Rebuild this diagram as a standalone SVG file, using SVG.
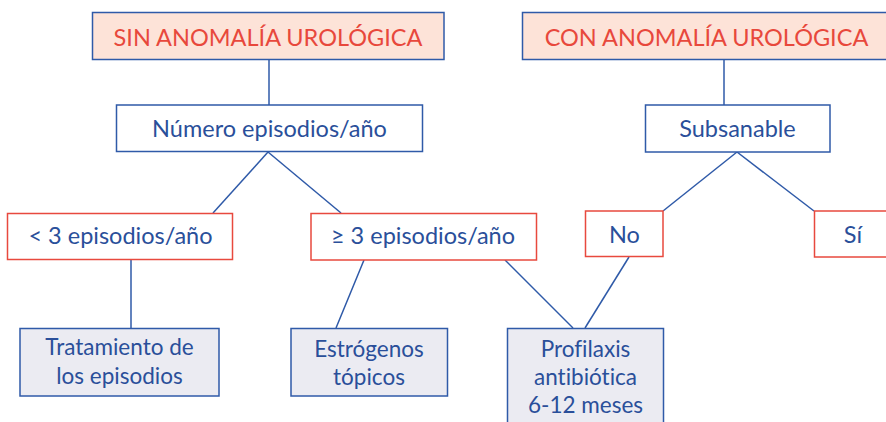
<svg xmlns="http://www.w3.org/2000/svg" width="886" height="422" viewBox="0 0 886 422">
<style>
.head rect{fill:#fde3d8;stroke:#2f5aa8;stroke-width:1.5}
.head text{fill:#e8483c;font-size:23.5px}
.q rect{fill:#ffffff;stroke:#2f5aa8;stroke-width:1.5}
.opt rect{fill:#ffffff;stroke:#e8493e;stroke-width:1.5}
.res rect{fill:#ebebf2;stroke:#2f5aa8;stroke-width:1.5}
.res text{font-size:22.5px}
text{font-family:Lato,"Open Sans","Liberation Sans",sans-serif;text-anchor:middle;fill:#2a4f9a;font-size:23.5px;font-variant-ligatures:none}
#connectors line{stroke:#2f5aa8;stroke-width:1.5}
</style>
<rect width="886" height="422" fill="#ffffff"/>
<g id="connectors">
<line x1="269" y1="59" x2="269" y2="105"/>
<line x1="724" y1="59" x2="724" y2="105"/>
<line x1="268" y1="152" x2="213" y2="213"/>
<line x1="268" y1="152" x2="341" y2="213"/>
<line x1="737" y1="152" x2="663" y2="211"/>
<line x1="737" y1="152" x2="814" y2="211"/>
<line x1="131" y1="259" x2="131" y2="328"/>
<line x1="364" y1="260" x2="336" y2="328"/>
<line x1="505" y1="260" x2="573" y2="328"/>
<line x1="629" y1="257" x2="585" y2="328"/>
</g>
<g id="sin" class="head"><rect x="92.5" y="12.5" width="351.5" height="47"/><text x="268" y="45.5">SIN ANOMALÍA UROLÓGICA</text></g>
<g id="con" class="head"><rect x="522.5" y="12.5" width="380" height="47"/><text x="706.5" y="45.5">CON ANOMALÍA UROLÓGICA</text></g>
<g id="numero" class="q"><rect x="116.5" y="105" width="306" height="46.5"/><text x="269.5" y="137.3">Número episodios/año</text></g>
<g id="subsanable" class="q"><rect x="645.5" y="105" width="184.5" height="47"/><text x="737.5" y="137.3">Subsanable</text></g>
<g id="menos3" class="opt"><rect x="7.5" y="213.5" width="225" height="46"/><text x="120.5" y="244.3">&lt; 3 episodios/año</text></g>
<g id="mas3" class="opt"><rect x="311" y="213.5" width="225.5" height="46.5"/><text x="423" y="244.3">≥ 3 episodios/año</text></g>
<g id="no" class="opt"><rect x="585.5" y="211" width="77.5" height="45.5"/><text x="624.5" y="242.7">No</text></g>
<g id="si" class="opt"><rect x="814.5" y="211" width="80" height="46"/><text x="853" y="242.7">Sí</text></g>
<g id="tratamiento" class="res"><rect x="20" y="328.5" width="199" height="67.5"/><text x="119.5" y="355">Tratamiento de</text><text x="119.5" y="384">los episodios</text></g>
<g id="estrogenos" class="res"><rect x="291" y="328.5" width="156.5" height="67.5"/><text x="369" y="356.7">Estrógenos</text><text x="369" y="385">tópicos</text></g>
<g id="profilaxis" class="res"><rect x="507.5" y="328.5" width="156" height="100"/><text x="585.5" y="357">Profilaxis</text><text x="585.5" y="385">antibiótica</text><text x="585.5" y="413">6-12 meses</text></g>
</svg>
